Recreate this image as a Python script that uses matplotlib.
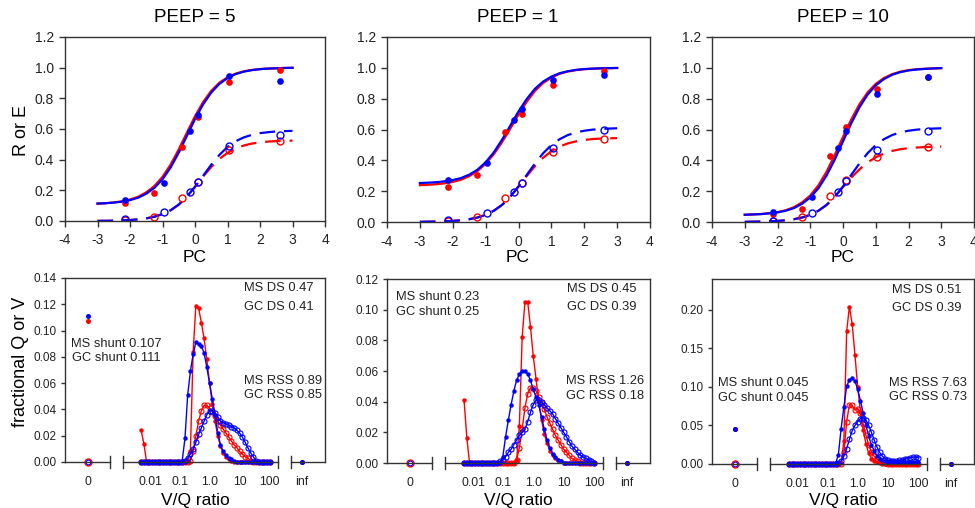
import numpy as np
import matplotlib
matplotlib.use('Agg')
import matplotlib.pyplot as plt
import matplotlib.transforms as mtransforms

plt.rcParams['font.family'] = ['Liberation Sans', 'DejaVu Sans']
plt.rcParams['axes.unicode_minus'] = False

RED = '#ff0000'
BLUE = '#0000ff'
FRAME = '#333333'

titles = ['PEEP = 5', 'PEEP = 1', 'PEEP = 10']

# ---- top row: R (filled) and E (open) against PC ----
pc_red = [-2.15, -1.25, -0.40, 0.10, 1.05, 2.60]
pc_blue = [-2.15, -0.95, -0.15, 0.10, 1.05, 2.60]

r_red = [[0.115, 0.18, 0.484, 0.675, 0.907, 0.987],
         [0.225, 0.307, 0.584, 0.70, 0.89, 0.977],
         [0.055, 0.087, 0.426, 0.614, 0.865, 0.94]]
r_blue = [[0.14, 0.25, 0.588, 0.694, 0.948, 0.911],
          [0.275, 0.383, 0.664, 0.735, 0.923, 0.956],
          [0.063, 0.16, 0.48, 0.588, 0.83, 0.938]]
e_red = [[0.008, 0.028, 0.152, 0.256, 0.46, 0.52],
         [0.008, 0.032, 0.156, 0.253, 0.452, 0.538],
         [0.005, 0.03, 0.167, 0.275, 0.42, 0.485]]
e_blue = [[0.01, 0.059, 0.187, 0.256, 0.488, 0.562],
          [0.011, 0.058, 0.192, 0.253, 0.48, 0.595],
          [0.009, 0.058, 0.195, 0.264, 0.465, 0.593]]

# fitted curves, read at PC = -3 .. 3 every 0.25
pc_grid = [-3.0, -2.75, -2.5, -2.25, -2.0, -1.75, -1.5, -1.25, -1.0, -0.75, -0.5, -0.25,
           0.0, 0.25, 0.5, 0.75, 1.0, 1.25, 1.5, 1.75, 2.0, 2.25, 2.5, 2.75, 3.0]
fit_r_red = [
    [0.113, 0.116, 0.121, 0.128, 0.140, 0.158, 0.187, 0.228, 0.288, 0.368, 0.467, 0.576, 0.683,
     0.776, 0.849, 0.902, 0.937, 0.961, 0.976, 0.985, 0.991, 0.994, 0.996, 0.998, 0.999],
    [0.239, 0.241, 0.245, 0.251, 0.260, 0.274, 0.297, 0.330, 0.378, 0.440, 0.518, 0.606, 0.697,
     0.780, 0.850, 0.902, 0.937, 0.961, 0.976, 0.985, 0.991, 0.994, 0.996, 0.998, 0.999],
    [0.047, 0.049, 0.052, 0.057, 0.064, 0.076, 0.096, 0.127, 0.172, 0.238, 0.327, 0.435, 0.552,
     0.664, 0.763, 0.840, 0.896, 0.934, 0.959, 0.975, 0.985, 0.991, 0.994, 0.996, 0.998]]
fit_r_blue = [
    [0.114, 0.116, 0.120, 0.126, 0.136, 0.152, 0.178, 0.216, 0.272, 0.349, 0.446, 0.555, 0.664,
     0.761, 0.838, 0.894, 0.932, 0.958, 0.974, 0.984, 0.990, 0.994, 0.996, 0.998, 0.999],
    [0.253, 0.255, 0.258, 0.264, 0.272, 0.285, 0.307, 0.339, 0.387, 0.452, 0.534, 0.625, 0.717,
     0.798, 0.864, 0.911, 0.943, 0.965, 0.978, 0.987, 0.992, 0.995, 0.997, 0.998, 0.999],
    [0.047, 0.049, 0.051, 0.056, 0.062, 0.073, 0.090, 0.118, 0.159, 0.219, 0.302, 0.406, 0.523,
     0.639, 0.743, 0.826, 0.886, 0.927, 0.955, 0.972, 0.983, 0.989, 0.993, 0.996, 0.998]]
fit_e_red = [
    [0.001, 0.001, 0.002, 0.004, 0.006, 0.011, 0.017, 0.028, 0.045, 0.070, 0.107, 0.159, 0.223,
     0.290, 0.352, 0.405, 0.444, 0.473, 0.492, 0.505, 0.513, 0.518, 0.521, 0.523, 0.524],
    [0.001, 0.002, 0.003, 0.004, 0.007, 0.011, 0.018, 0.029, 0.046, 0.073, 0.111, 0.164, 0.229,
     0.298, 0.362, 0.417, 0.459, 0.489, 0.510, 0.523, 0.532, 0.538, 0.541, 0.543, 0.544],
    [0.001, 0.002, 0.003, 0.004, 0.007, 0.011, 0.018, 0.029, 0.046, 0.073, 0.111, 0.164, 0.226,
     0.287, 0.341, 0.386, 0.420, 0.444, 0.461, 0.472, 0.479, 0.483, 0.486, 0.488, 0.489]]
fit_e_blue = [
    [0.001, 0.001, 0.002, 0.004, 0.006, 0.011, 0.017, 0.028, 0.045, 0.070, 0.107, 0.159, 0.223,
     0.295, 0.367, 0.431, 0.483, 0.520, 0.545, 0.562, 0.573, 0.579, 0.584, 0.586, 0.588],
    [0.001, 0.002, 0.003, 0.004, 0.007, 0.011, 0.018, 0.029, 0.046, 0.073, 0.111, 0.164, 0.231,
     0.305, 0.379, 0.446, 0.499, 0.537, 0.564, 0.581, 0.592, 0.599, 0.603, 0.606, 0.608],
    [0.001, 0.002, 0.003, 0.004, 0.007, 0.011, 0.018, 0.029, 0.046, 0.073, 0.111, 0.164, 0.231,
     0.305, 0.379, 0.446, 0.499, 0.537, 0.564, 0.581, 0.592, 0.599, 0.603, 0.606, 0.608]]

# ---- bottom row: V/Q distributions (48 compartments) ----
vq = [0.005, 0.0062, 0.0076, 0.0094, 0.0116, 0.0144, 0.0177, 0.0219, 0.027, 0.0333, 0.0411,
      0.0508, 0.0627, 0.0774, 0.0956, 0.118, 0.146, 0.18, 0.222, 0.274, 0.338, 0.418, 0.516,
      0.637, 0.786, 0.971, 1.2, 1.48, 1.83, 2.25, 2.78, 3.44, 4.24, 5.24, 6.46, 7.98, 9.86,
      12.2, 15.0, 18.5, 22.9, 28.3, 34.9, 43.1, 53.2, 65.7, 81.0, 100.0]

q_red = [  # MS blood flow (red filled)
    [0.024, 0.0135] + [0] * 16 +
    [0.008, 0.084, 0.119, 0.117, 0.106, 0.094, 0.078, 0.060, 0.044, 0.031, 0.020, 0.012,
     0.007, 0.004, 0.002, 0.001] + [0] * 14,
    [0.041, 0.016] + [0] * 17 +
    [0.002, 0.024, 0.082, 0.105, 0.105, 0.089, 0.070, 0.055, 0.040, 0.028, 0.019, 0.013,
     0.008, 0.005, 0.003, 0.002, 0.001] + [0] * 12,
    [0] * 19 +
    [0.001, 0.030, 0.172, 0.204, 0.182, 0.142, 0.100, 0.068, 0.044, 0.026, 0.014, 0.007,
     0.004, 0.002, 0.001] + [0] * 14]
q_blue = [  # GC blood flow (blue filled)
    [0] * 15 +
    [0.001, 0.018, 0.051, 0.069, 0.082, 0.091, 0.090, 0.088, 0.083, 0.072, 0.060, 0.048,
     0.036, 0.022, 0.013, 0.008, 0.005, 0.003, 0.002, 0.001] + [0] * 13,
    [0] * 14 +
    [0.004, 0.017, 0.028, 0.038, 0.047, 0.054, 0.058, 0.060, 0.060, 0.058, 0.054, 0.048,
     0.043, 0.038, 0.030, 0.022, 0.015, 0.010, 0.006, 0.004, 0.002, 0.001] + [0] * 12,
    [0] * 17 +
    [0.001, 0.012, 0.046, 0.074, 0.101, 0.109, 0.111, 0.108, 0.097, 0.082, 0.066, 0.050,
     0.036, 0.025, 0.017, 0.011, 0.007, 0.005, 0.004, 0.003, 0.003, 0.002, 0.002, 0.002,
     0.002, 0.002, 0.003, 0.003, 0.003, 0.003, 0.003]]
v_red = [  # MS ventilation (red open)
    [0] * 18 +
    [0.001, 0.008, 0.020, 0.031, 0.039, 0.043, 0.043, 0.041, 0.038, 0.035, 0.031, 0.028,
     0.025, 0.022, 0.019, 0.016, 0.013, 0.011, 0.008, 0.006, 0.004, 0.003, 0.001] + [0] * 7,
    [0] * 19 +
    [0.002, 0.010, 0.022, 0.036, 0.045, 0.049, 0.049, 0.047, 0.043, 0.039, 0.035, 0.030,
     0.026, 0.022, 0.018, 0.015, 0.012, 0.009, 0.007, 0.005, 0.003, 0.002, 0.001] + [0] * 6,
    [0] * 20 +
    [0.015, 0.055, 0.077, 0.076, 0.070, 0.072, 0.066, 0.052, 0.037, 0.025, 0.016, 0.010,
     0.006, 0.004, 0.002, 0.001] + [0] * 12]
v_blue = [  # GC ventilation (blue open)
    [0] * 16 +
    [0.001, 0.003, 0.006, 0.010, 0.015, 0.021, 0.026, 0.031, 0.036, 0.039, 0.039, 0.037,
     0.034, 0.031, 0.030, 0.029, 0.028, 0.027, 0.026, 0.024, 0.022, 0.019, 0.015, 0.011,
     0.007, 0.004, 0.001] + [0] * 5,
    [0] * 13 +
    [0.001, 0.002, 0.004, 0.007, 0.009, 0.012, 0.015, 0.018, 0.020, 0.022, 0.027, 0.033,
     0.038, 0.041, 0.041, 0.040, 0.038, 0.036, 0.034, 0.032, 0.029, 0.026, 0.023, 0.020,
     0.017, 0.014, 0.011, 0.009, 0.007, 0.005, 0.004, 0.003, 0.002, 0.001, 0],
    [0] * 18 +
    [0.001, 0.004, 0.010, 0.020, 0.032, 0.043, 0.050, 0.055, 0.059, 0.060, 0.057, 0.050,
     0.041, 0.031, 0.022, 0.015, 0.010, 0.007, 0.005, 0.004, 0.004, 0.004, 0.005, 0.005,
     0.006, 0.007, 0.008, 0.009, 0.009, 0.008]]

ms_shunt = [0.107, 0.23, 0.045]
gc_shunt = [0.111, 0.25, 0.045]
ms_ds = [0.47, 0.45, 0.51]
gc_ds = [0.41, 0.39, 0.39]
ms_rss = [0.89, 1.26, 7.63]
gc_rss = [0.85, 0.18, 0.73]

bot_ylim = [0.14, 0.12, 0.24]
bot_yticks = [[0, 0.02, 0.04, 0.06, 0.08, 0.10, 0.12, 0.14],
              [0, 0.02, 0.04, 0.06, 0.08, 0.10, 0.12],
              [0, 0.05, 0.10, 0.15, 0.20]]

vq_tick_labels = ['0', '0.01', '0.1', '1.0', '10', '100', 'inf']

# ---- layout (pixel boxes) ----
W, H = 975, 508
fig = plt.figure(figsize=(W / 100, H / 100), dpi=100)


def box(l, t, r, b):
    return [l / W, 1 - b / H, (r - l) / W, (b - t) / H]


def fxy(x, y):
    return x / W, 1 - y / H


top_boxes = [box(65, 37, 325, 221), box(387, 37, 650, 222), box(712, 37, 974, 222)]
bot_boxes = [box(65, 278, 325, 462), box(387, 279, 650, 463), box(712, 279, 974, 464)]
centers = [195, 518, 843]

# positions on the broken V/Q axis (log10 units)
U_ZERO, U_INF = -4.09, 3.08
U_LEFT, U_RIGHT = -4.85, 3.85
breaks = [(-3.35, -2.92), (2.28, 2.71)]

for k in range(3):
    ax = fig.add_axes(top_boxes[k])
    ax.plot(pc_grid, fit_r_red[k], color=RED, lw=1.6, clip_on=False)
    ax.plot(pc_grid, fit_r_blue[k], color=BLUE, lw=1.6, clip_on=False)
    ax.plot(pc_grid, fit_e_red[k], color=RED, lw=1.6, dashes=(7, 4), clip_on=False)
    ax.plot(pc_grid, fit_e_blue[k], color=BLUE, lw=1.6, dashes=(7, 4), clip_on=False)
    ax.plot(pc_red, r_red[k], 'o', color=RED, ms=4.8, mec='none')
    ax.plot(pc_blue, r_blue[k], 'o', color=BLUE, ms=4.8, mec='none')
    ax.plot(pc_red, e_red[k], 'o', mfc='none', mec=RED, ms=5, mew=1)
    ax.plot(pc_blue, e_blue[k], 'o', mfc='none', mec=BLUE, ms=5, mew=1)
    ax.set_xlim(-4, 4)
    ax.set_ylim(0, 1.2)
    ax.set_xticks(range(-4, 5))
    ax.set_yticks([0, 0.2, 0.4, 0.6, 0.8, 1.0, 1.2])
    ax.set_yticklabels(['%.1f' % v for v in [0, 0.2, 0.4, 0.6, 0.8, 1.0, 1.2]])
    ax.tick_params(direction='out', length=4, width=1, color=FRAME, labelsize=10,
                   labelcolor='#222222')
    ax.tick_params(axis='x', pad=5)
    ax.tick_params(axis='y', pad=4)
    for s in ax.spines.values():
        s.set_color(FRAME)
        s.set_linewidth(1)
    fig.text(*fxy(centers[k], 17), titles[k], ha='center', va='center', fontsize=13.5)
    fig.text(*fxy(centers[k], 258), 'PC', ha='center', va='center', fontsize=12.5)

    # bottom row
    bx = fig.add_axes(bot_boxes[k])
    u = np.log10(vq)
    bx.plot(u, v_red[k], '-o', color=RED, lw=1, ms=3.6, mfc='none', mew=0.8, clip_on=False)
    bx.plot(u, q_red[k], '-o', color=RED, lw=1, ms=3.2, mec='none', clip_on=False)
    bx.plot(u, v_blue[k], '-o', color=BLUE, lw=1, ms=3.6, mfc='none', mew=0.8, clip_on=False)
    bx.plot(u, q_blue[k], '-o', color=BLUE, lw=1, ms=3.2, mec='none', clip_on=False)
    # shunt (V/Q = 0) and dead space (V/Q = inf) compartments
    bx.plot([U_ZERO], [ms_shunt[k]], 'o', color=RED, ms=3.6, mec='none')
    bx.plot([U_ZERO], [gc_shunt[k]], 'o', color=BLUE, ms=3.6, mec='none')
    bx.plot([U_ZERO], [0], 'o', mfc='none', mec=RED, ms=5, mew=1, clip_on=False)
    bx.plot([U_ZERO], [0], 'o', mfc='none', mec=BLUE, ms=3.4, mew=0.8, clip_on=False)
    bx.plot([U_INF], [0], 'o', color=RED, ms=3.6, mec='none', clip_on=False)
    bx.plot([U_INF], [0], 'o', color=BLUE, ms=3.6, mec='none', clip_on=False)

    bx.set_xlim(U_LEFT, U_RIGHT)
    bx.set_ylim(0, bot_ylim[k])
    bx.set_yticks(bot_yticks[k])
    bx.set_yticklabels(['%.2f' % v for v in bot_yticks[k]])
    bx.set_xticks([U_ZERO, -2, -1, 0, 1, 2, U_INF])
    bx.set_xticklabels(vq_tick_labels)
    bx.tick_params(axis='x', length=0, pad=10, labelsize=8.8)
    bx.tick_params(axis='y', direction='out', length=3, width=1, color=FRAME, pad=3,
                   labelsize=8.5)
    bx.tick_params(labelcolor='#222222')
    for s in bx.spines.values():
        s.set_color(FRAME)
        s.set_linewidth(1)
    bx.spines['bottom'].set_visible(False)
    trans = mtransforms.blended_transform_factory(bx.transData, bx.transAxes)
    segs = [(U_LEFT, breaks[0][0]), (breaks[0][1], breaks[1][0]), (breaks[1][1], U_RIGHT)]
    for a, b in segs:
        bx.plot([a, b], [0, 0], color=FRAME, lw=1, transform=trans, clip_on=False)
    for xb in [breaks[0][0], breaks[0][1], breaks[1][0], breaks[1][1]]:
        bx.plot([xb, xb], [-0.033, 0.033], color=FRAME, lw=1, transform=trans, clip_on=False)
    fig.text(*fxy(centers[k], 500), 'V/Q ratio', ha='center', va='center', fontsize=12.5)

# annotations (pixel centres)
notes = [
    ('MS DS %.2f' % ms_ds[0], 279, 288), ('GC DS %.2f' % gc_ds[0], 279, 307),
    ('MS shunt %.3f' % ms_shunt[0], 116, 344), ('GC shunt %.3f' % gc_shunt[0], 116, 358),
    ('MS RSS %.2f' % ms_rss[0], 283, 381), ('GC RSS %.2f' % gc_rss[0], 283, 395),
    ('MS shunt %.2f' % ms_shunt[1], 438, 297), ('GC shunt %.2f' % gc_shunt[1], 438, 312),
    ('MS DS %.2f' % ms_ds[1], 602, 289), ('GC DS %.2f' % gc_ds[1], 602, 307),
    ('MS RSS %.2f' % ms_rss[1], 605, 381), ('GC RSS %.2f' % gc_rss[1], 605, 396),
    ('MS DS %.2f' % ms_ds[2], 927, 290), ('GC DS %.2f' % gc_ds[2], 927, 308),
    ('MS shunt %.3f' % ms_shunt[2], 763, 383), ('GC shunt %.3f' % gc_shunt[2], 763, 398),
    ('MS RSS %.2f' % ms_rss[2], 928, 383), ('GC RSS %.2f' % gc_rss[2], 928, 397),
]
for txt, x, y in notes:
    fig.text(*fxy(x, y), txt, ha='center', va='center', fontsize=9.3, color='#222222')

fig.text(*fxy(21, 130), 'R or E', ha='center', va='center', rotation=90, fontsize=13)
fig.text(*fxy(21, 362), 'fractional Q or V', ha='center', va='center', rotation=90,
         fontsize=13)

fig.savefig('out.png', dpi=100)
